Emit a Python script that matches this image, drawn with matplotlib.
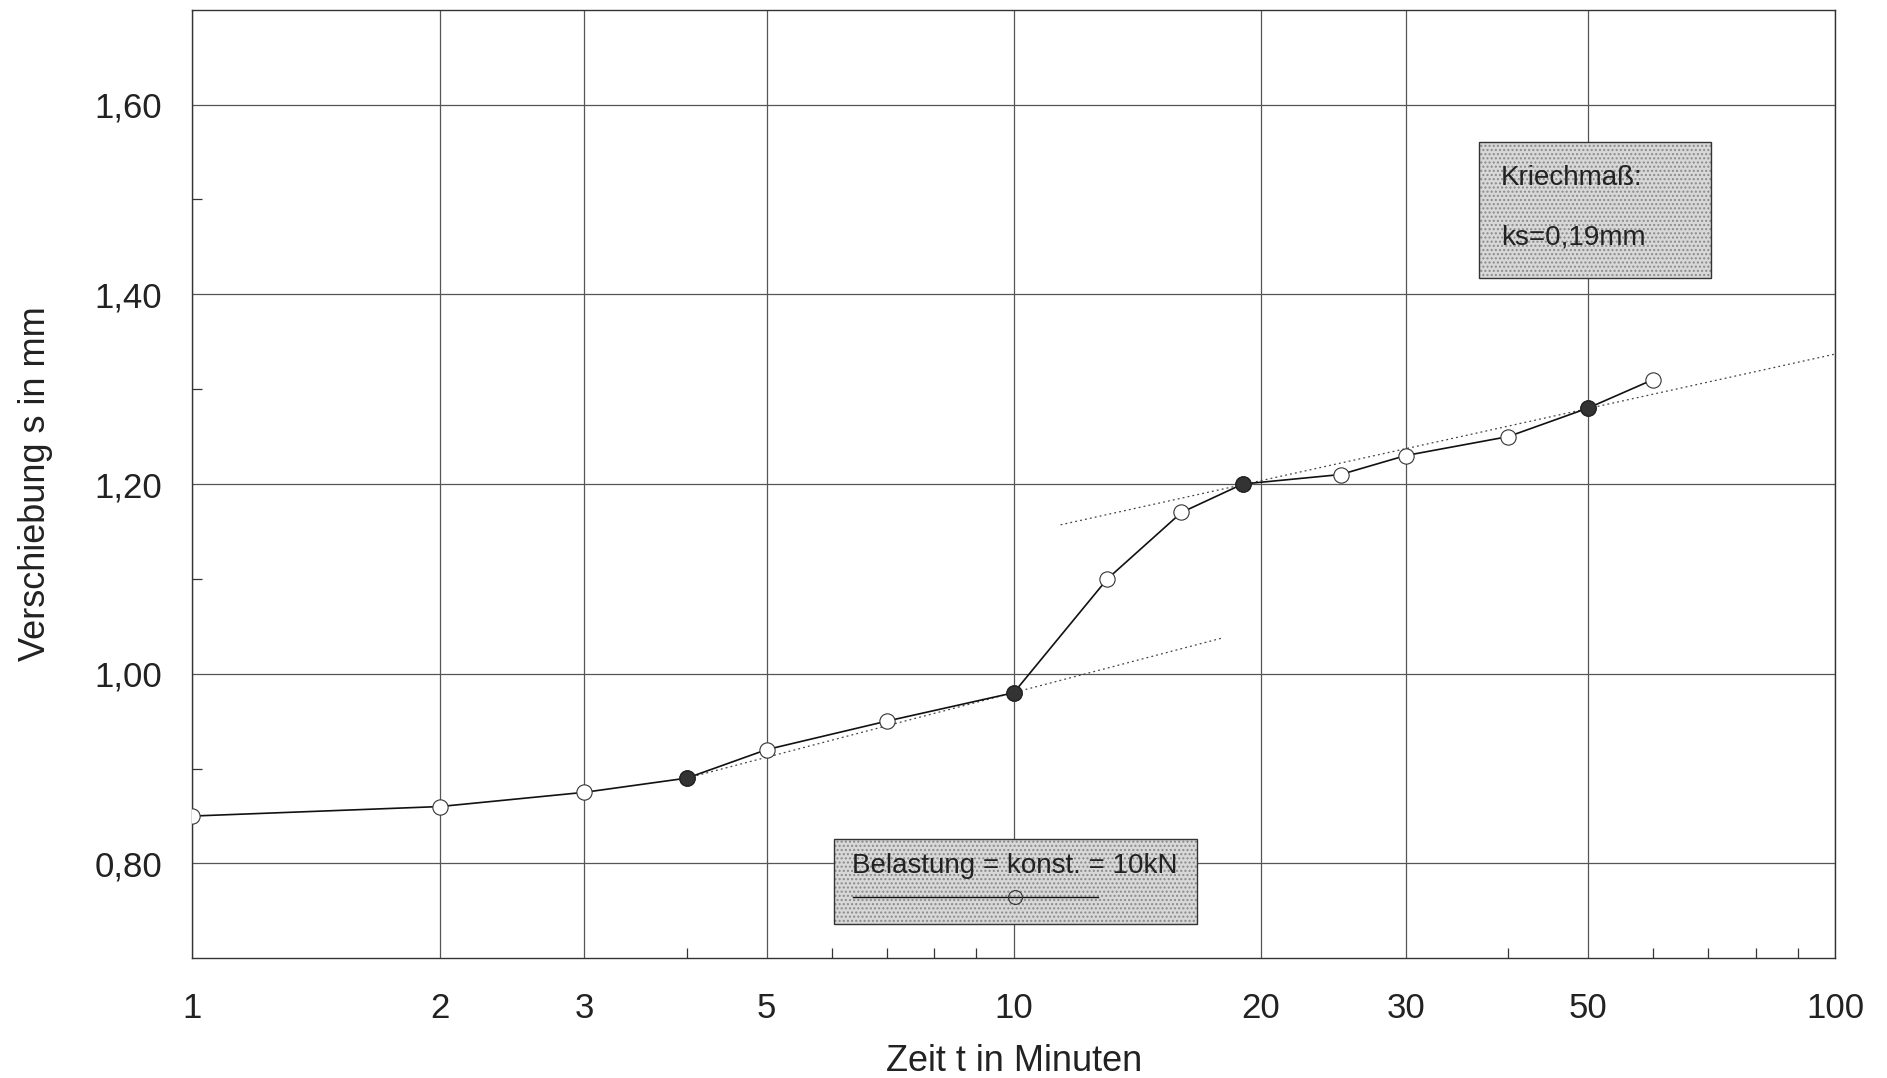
import matplotlib
matplotlib.use("Agg")
import matplotlib.pyplot as plt
from matplotlib.patches import Rectangle
from matplotlib.lines import Line2D

plt.rcParams['font.family'] = ['Liberation Sans', 'DejaVu Sans']

# Messwerte: Zeit (min) und Verschiebung (mm)
zeit = [1, 2, 3, 4, 5, 7, 10, 13, 16, 19, 25, 30, 40, 50, 60]
verschiebung = [0.85, 0.86, 0.875, 0.89, 0.92, 0.95, 0.98, 1.10, 1.17, 1.20,
                1.21, 1.23, 1.25, 1.28, 1.31]
# gefuellte Punkte (Stuetzpunkte der Tangenten)
zeit_fest = [4, 10, 19, 50]
versch_fest = [0.89, 0.98, 1.20, 1.28]

# gepunktete Tangenten
tangente1_x = [4, 18]
tangente1_y = [0.89, 1.038]
tangente2_x = [11.4, 100]
tangente2_y = [1.157, 1.337]

x_ticks = [1, 2, 3, 5, 10, 20, 30, 50, 100]
x_minor = [4, 6, 7, 8, 9, 40, 60, 70, 80, 90]
y_ticks = [0.80, 1.00, 1.20, 1.40, 1.60]
y_minor = [0.90, 1.10, 1.30, 1.50]

fig = plt.figure(figsize=(18.87, 10.78), dpi=100)
ax = fig.add_axes([0.102, 0.111, 0.8705, 0.880])

ax.set_xscale('log')
ax.set_xlim(1, 100)
ax.set_ylim(0.70, 1.70)

ax.set_xticks(x_ticks)
ax.set_xticklabels([str(t) for t in x_ticks])
ax.set_xticks(x_minor, minor=True)
ax.set_xticklabels([], minor=True)
ax.set_yticks(y_ticks)
ax.set_yticklabels([f"{v:.2f}".replace('.', ',') for v in y_ticks])
ax.set_yticks(y_minor, minor=True)

ax.tick_params(which='major', length=0, labelsize=25, pad=22, colors='#222222')
ax.tick_params(axis='x', which='major', pad=24)
ax.tick_params(which='minor', direction='in', length=7, width=0.9, color='#333333')

ax.grid(True, which='major', color='#555555', linewidth=0.9)
for s in ax.spines.values():
    s.set_color('#333333')
    s.set_linewidth(1.0)

# Tangenten
ax.plot(tangente1_x, tangente1_y, linestyle=(0, (1.5, 2.5)), color='#444444', linewidth=0.9)
ax.plot(tangente2_x, tangente2_y, linestyle=(0, (1.5, 2.5)), color='#444444', linewidth=0.9)

# Messkurve
ax.plot(zeit, verschiebung, color='#111111', linewidth=1.2, marker='o',
        markersize=11, markerfacecolor='white', markeredgecolor='#333333',
        markeredgewidth=0.8, zorder=3)
ax.plot(zeit_fest, versch_fest, linestyle='none', marker='o', markersize=11,
        markerfacecolor='#333333', markeredgecolor='#222222', zorder=4)

ax.set_xlabel('Zeit t in Minuten', fontsize=26, labelpad=14, color='#222222')
ax.set_ylabel('Verschiebung s in mm', fontsize=26, labelpad=30, color='#222222')


def stipple_box(x0, y0, w, h):
    # Box in Figurenkoordinaten mit gepunkteter grauer Fuellung
    fig.patches.append(Rectangle((x0, y0), w, h, transform=fig.transFigure,
                                 facecolor='#d8d8d8', edgecolor='#8a8a8a',
                                 hatch='....', linewidth=0, zorder=5))
    fig.patches.append(Rectangle((x0, y0), w, h, transform=fig.transFigure,
                                 facecolor='none', edgecolor='#333333',
                                 linewidth=1.0, zorder=6))


W, H = 1887, 1078

# Kriechmass-Box
stipple_box(1479 / W, 1 - 278 / H, 232 / W, 136 / H)
fig.text(1501 / W, 1 - 178 / H, 'Kriechmaß:', fontsize=20, va='center',
         ha='left', color='#222222', zorder=7)
fig.text(1501 / W, 1 - 237 / H, 'ks=0,19mm', fontsize=20, va='center',
         ha='left', color='#222222', zorder=7)

# Legenden-Box
stipple_box(834 / W, 1 - 924 / H, 363 / W, 85 / H)
fig.text(1015 / W, 1 - 866 / H, 'Belastung = konst. = 10kN', fontsize=20,
         va='center', ha='center', color='#222222', zorder=7)
fig.lines.append(Line2D([853 / W, 1098 / W], [1 - 897 / H, 1 - 897 / H],
                        transform=fig.transFigure, color='#111111',
                        linewidth=1.0, zorder=7))
fig.lines.append(Line2D([1015 / W], [1 - 897 / H], transform=fig.transFigure,
                        marker='o', markersize=10, markerfacecolor='none',
                        markeredgecolor='#333333', markeredgewidth=0.8,
                        linestyle='none', zorder=8))

fig.savefig('out.png', dpi=100, facecolor='white')
